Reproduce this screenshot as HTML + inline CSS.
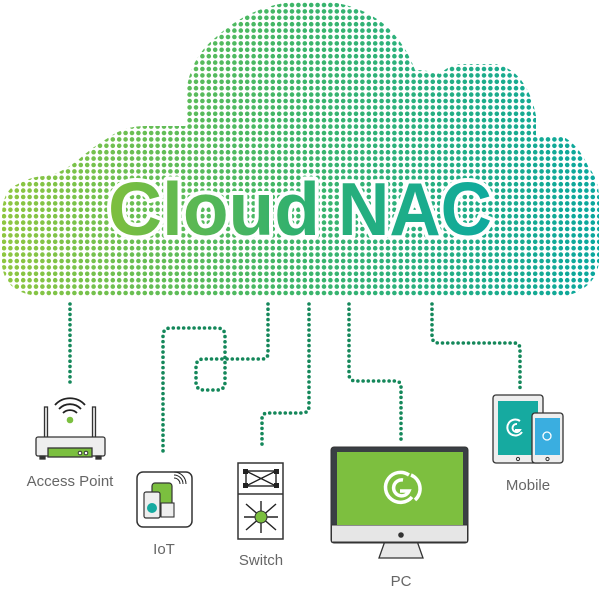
<!DOCTYPE html>
<html><head><meta charset="utf-8"><style>
html,body{margin:0;padding:0;background:#fff}
svg{display:block}
text{font-family:"Liberation Sans",sans-serif}
</style></head><body>
<svg width="600" height="590" viewBox="0 0 600 590" xmlns="http://www.w3.org/2000/svg">
<defs>
<linearGradient id="g" x1="0" y1="0" x2="600" y2="0" gradientUnits="userSpaceOnUse">
<stop offset="0" stop-color="#8fc640"/><stop offset="0.5" stop-color="#3db56a"/><stop offset="1" stop-color="#0aa79f"/></linearGradient>
<linearGradient id="gt" x1="105" y1="0" x2="495" y2="0" gradientUnits="userSpaceOnUse">
<stop offset="0" stop-color="#80bf3c"/><stop offset="0.5" stop-color="#2fb070"/><stop offset="1" stop-color="#0eaa9f"/></linearGradient>
<clipPath id="c"><path d="M293,2 H330 Q362,6 385,25 Q405,43 415,70 Q428,70 440,74 Q450,64 462,64 H496 Q512,68 521,80 Q532,94 536,116 V136 H562 Q578,144 588,166 Q599,180 599,198 V262 Q596,288 566,296 H40 Q6,294 2,266 V216 Q2,190 18,184 Q32,176 46,176 Q60,174 78,160 Q94,146 108,138 Q124,126 146,126 H186 V93 Q190,58 215,38 Q250,6 293,2 Z"/></clipPath>
</defs>
<g clip-path="url(#c)">
<path fill="none" stroke="url(#g)" stroke-width="4.6" stroke-linecap="round" stroke-dasharray="0 6.4" d="M4,5H600M4,11.4H600M4,17.8H600M4,24.2H600M4,30.6H600M4,37H600M4,43.4H600M4,49.8H600M4,56.2H600M4,62.6H600M4,69H600M4,75.4H600M4,81.8H600M4,88.2H600M4,94.6H600M4,101H600M4,107.4H600M4,113.8H600M4,120.2H600M4,126.6H600M4,133H600M4,139.4H600M4,145.8H600M4,152.2H600M4,158.6H600M4,165H600M4,171.4H600M4,177.8H600M4,184.2H600M4,190.6H600M4,197H600M4,203.4H600M4,209.8H600M4,216.2H600M4,222.6H600M4,229H600M4,235.4H600M4,241.8H600M4,248.2H600M4,254.6H600M4,261H600M4,267.4H600M4,273.8H600M4,280.2H600M4,286.6H600M4,293H600"/>
</g>
<text x="108" y="235" font-size="75" font-weight="bold" fill="url(#gt)" stroke="#fff" stroke-width="8" paint-order="stroke" stroke-linejoin="round" textLength="212" lengthAdjust="spacingAndGlyphs">Cloud</text>
<text x="338" y="235" font-size="75" font-weight="bold" fill="url(#gt)" stroke="#fff" stroke-width="8" paint-order="stroke" stroke-linejoin="round" textLength="154" lengthAdjust="spacingAndGlyphs">NAC</text>

<g fill="none" stroke="#14875a" stroke-width="3.6" stroke-linecap="round" stroke-dasharray="0 5.2">
<path d="M70,304 V383"/>
<path d="M268,304 V353 Q268,359 262,359 H204 Q196,359 196,367 V382 Q196,390 204,390 H217 Q225,390 225,382 V336 Q225,328 217,328 H171 Q163,328 163,336 V455"/>
<path d="M309,304 V406 Q309,413 302,413 H268 Q262,413 262,419 V448"/>
<path d="M349,304 V374 Q349,381 356,381 H395 Q401,381 401,387 V442"/>
<path d="M432,304 V336 Q432,343 439,343 H514 Q520,343 520,349 V389"/>
</g>

<!-- Access point -->
<g stroke="#333" stroke-width="1.3">
<rect x="44.5" y="407" width="3" height="31" fill="#eee"/>
<rect x="92.5" y="407" width="3" height="31" fill="#eee"/>
<rect x="36" y="437" width="69" height="19" rx="2" fill="#eeeeee"/>
<rect x="48" y="448" width="44" height="9" fill="#7bbf3f"/>
<rect x="40" y="456" width="5" height="3" fill="#333"/><rect x="96" y="456" width="5" height="3" fill="#333"/>
</g>
<circle cx="80" cy="453" r="1.8" fill="#fff" stroke="#333"/><circle cx="86" cy="453" r="1.8" fill="#fff" stroke="#333"/>
<circle cx="70" cy="420" r="3.3" fill="#7bbf3f"/>
<g fill="none" stroke="#222" stroke-width="1.8">
<path d="M63,413 A10,10 0 0 1 77,413"/><path d="M59,409 A15,15 0 0 1 81,409"/><path d="M55,405 A20,20 0 0 1 85,405"/></g>
<text x="70" y="486" font-size="15" fill="#666" text-anchor="middle">Access Point</text>

<!-- IoT -->
<rect x="137" y="472" width="55" height="55" rx="6" fill="#fff" stroke="#333" stroke-width="1.5"/>
<rect x="152" y="483" width="20" height="33" rx="3" fill="#7bbf3f" stroke="#333" stroke-width="1.2"/>
<rect x="161" y="503" width="13" height="14" fill="#eee" stroke="#333" stroke-width="1.1"/>
<rect x="144" y="492" width="16" height="26" rx="2" fill="#eee" stroke="#333" stroke-width="1.2"/>
<circle cx="152" cy="508" r="5" fill="#16aaa0"/>
<g fill="none" stroke="#222" stroke-width="1"><path d="M174,478 a6,6 0 0 1 6,6"/><path d="M174,475 a9,9 0 0 1 9,9"/><path d="M174,472 a12,12 0 0 1 12,12"/></g>
<text x="164" y="554" font-size="15" fill="#666" text-anchor="middle">IoT</text>

<!-- Switch -->
<rect x="238" y="463" width="45" height="76" fill="#fff" stroke="#333" stroke-width="1.5"/>
<line x1="238" y1="494" x2="283" y2="494" stroke="#333" stroke-width="1.5"/>
<g stroke="#222" stroke-width="1.4" fill="none"><rect x="246" y="471" width="30" height="15"/><line x1="246" y1="471" x2="276" y2="486"/><line x1="246" y1="486" x2="276" y2="471"/></g>
<g fill="#222"><rect x="243" y="469" width="5" height="5"/><rect x="274" y="469" width="5" height="5"/><rect x="243" y="483" width="5" height="5"/><rect x="274" y="483" width="5" height="5"/></g>
<g stroke="#222" stroke-width="1.4"><line x1="246" y1="504" x2="276" y2="530"/><line x1="276" y1="504" x2="246" y2="530"/><line x1="261" y1="501" x2="261" y2="533"/><line x1="244" y1="517" x2="278" y2="517"/></g>
<circle cx="261" cy="517" r="6" fill="#7bbf3f" stroke="#333"/>
<text x="261" y="565" font-size="15" fill="#666" text-anchor="middle">Switch</text>

<!-- PC -->
<path d="M379,558 L385,541 H417 L423,558 Z" fill="#e8e8e8" stroke="#333" stroke-width="1.3"/>
<rect x="331" y="447" width="137" height="96" rx="3" fill="#3a3f44" stroke="#333"/>
<rect x="331.5" y="525" width="136" height="17" fill="#e6e6e6" stroke="#333"/>
<rect x="337" y="452" width="126" height="73" fill="#7dbf3f"/>
<circle cx="401" cy="535" r="2.8" fill="#333"/>
<g fill="none" stroke="#fff" stroke-width="3.5"><path d="M409,475 A15,15 0 1 0 412,497"/><path d="M403,480 A8,8 0 1 0 409,491 H400"/><path d="M411,475 A15,15 0 0 1 415,500"/></g>
<text x="401" y="586" font-size="15" fill="#666" text-anchor="middle">PC</text>

<!-- Mobile -->
<rect x="493" y="395" width="50" height="68" rx="3" fill="#eee" stroke="#333" stroke-width="1.3"/>
<rect x="498" y="401" width="40" height="54" fill="#16aaa0"/>
<circle cx="518" cy="459" r="1.6" fill="none" stroke="#333"/>
<rect x="532" y="413" width="31" height="50" rx="3" fill="#eee" stroke="#333" stroke-width="1.3"/>
<rect x="535" y="418" width="25" height="37" fill="#3aaee0"/>
<circle cx="547.5" cy="459" r="1.6" fill="none" stroke="#333"/>
<g fill="none" stroke="#fff" stroke-width="2"><path d="M520,421 A8,8 0 1 0 522,432"/><path d="M517,424 A4,4 0 1 0 520,430 H515"/></g>
<circle cx="547" cy="436" r="4" fill="none" stroke="#fff" stroke-width="1.3"/>
<text x="528" y="490" font-size="15" fill="#666" text-anchor="middle">Mobile</text>
</svg>
</body></html>
